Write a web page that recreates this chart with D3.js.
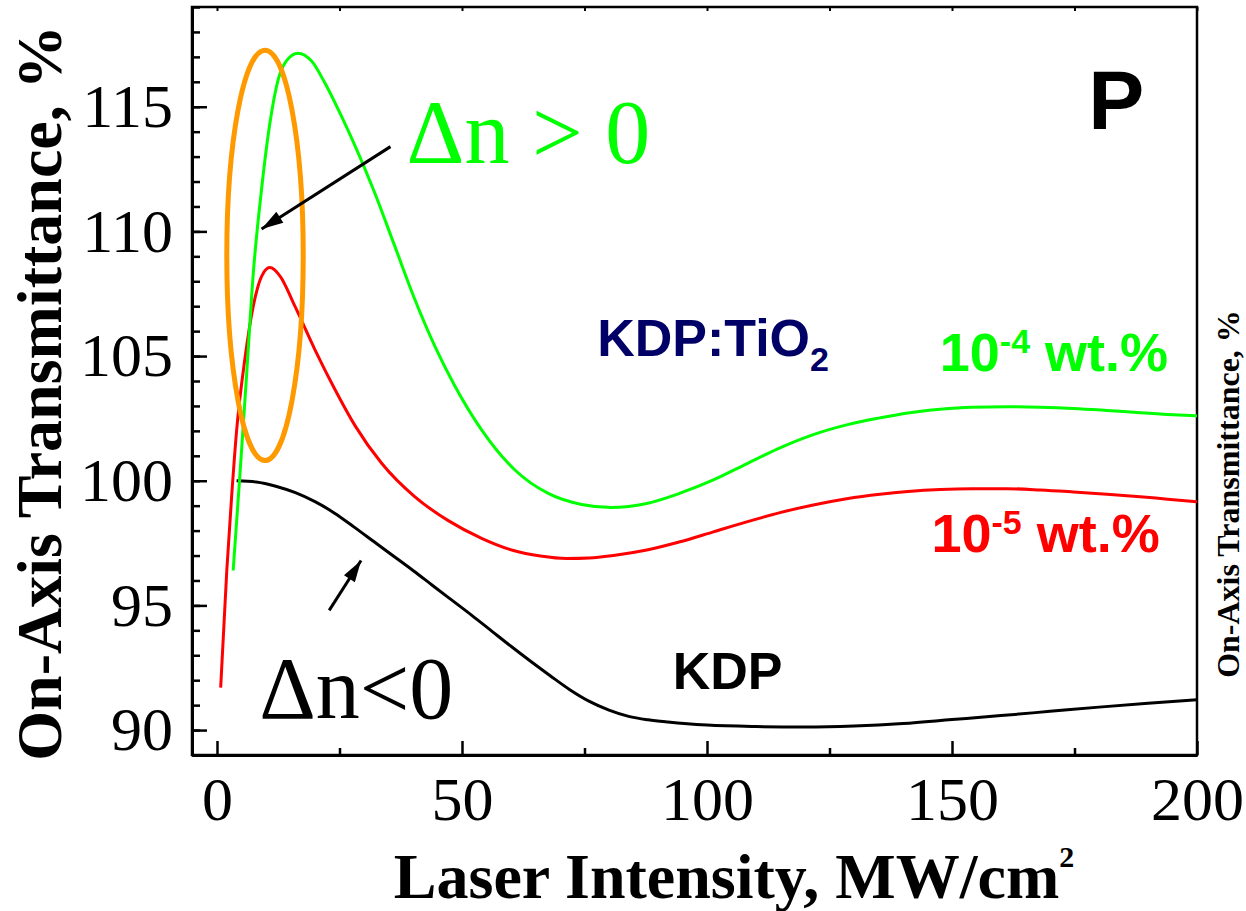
<!DOCTYPE html>
<html>
<head>
<meta charset="utf-8">
<script src="https://cdn.jsdelivr.net/npm/d3@7"></script>
<style>
  body { margin: 0; background: #fff; }
  svg { display: block; }
</style>
</head>
<body>
<div class="canvas"></div>
<script>
// ---- data ----
const kdpX = [4, 8, 12, 16, 20, 24, 28, 32, 36, 40, 44, 48, 52, 56, 60, 64, 68, 72, 76, 80, 84, 88, 92, 96, 100, 110, 120, 130, 140, 150, 160, 170, 180, 190, 200];
const kdpY = [100.0, 99.95, 99.78, 99.52, 99.16, 98.7, 98.14, 97.56, 96.98, 96.4, 95.8, 95.2, 94.6, 93.98, 93.36, 92.76, 92.18, 91.62, 91.15, 90.8, 90.55, 90.41, 90.32, 90.25, 90.2, 90.14, 90.12, 90.16, 90.26, 90.42, 90.58, 90.75, 90.92, 91.08, 91.22];

const tio5X = [0.75, 2.0, 3.0, 4.0, 5.7, 7.4, 9.1, 10.8, 12.9, 15.9, 20.0, 24.1, 28.2, 33.6, 40.4, 47.2, 54.0, 60.5, 66, 71.4, 76, 80.9, 87.7, 94.5, 101.3, 108.1, 114.9, 121.7, 128.5, 135.3, 141, 147.6, 154, 161.2, 168, 174.8, 181.6, 188.4, 194, 200];
const tio5Y = [91.7, 96.4, 99.4, 102.0, 104.9, 107.0, 108.2, 108.55, 108.2, 107.0, 105.25, 103.65, 102.2, 100.7, 99.35, 98.4, 97.69, 97.2, 96.98, 96.88, 96.9, 97.0, 97.22, 97.55, 97.95, 98.35, 98.72, 99.03, 99.28, 99.46, 99.57, 99.65, 99.68, 99.68, 99.63, 99.55, 99.46, 99.36, 99.26, 99.16];

const tio4X = [3.3, 4.7, 6.06, 7.4, 9.1, 10.8, 12.5, 14.2, 16.5, 19.3, 22.0, 25.4, 28.8, 32.2, 36.3, 40.4, 44.5, 48.6, 54.0, 60.8, 67.6, 74.4, 80.5, 87.7, 94.5, 101.3, 108.1, 114.9, 121.7, 128.5, 135.3, 141, 147.6, 154, 161.2, 168, 174.8, 181.6, 188.4, 194, 200];
const tio4Y = [96.4, 100.3, 104.3, 108.3, 111.7, 114.35, 116.1, 116.85, 117.15, 116.83, 115.96, 114.62, 113.15, 111.54, 109.4, 107.26, 105.38, 103.78, 102.04, 100.43, 99.49, 99.05, 98.93, 99.09, 99.5, 100.03, 100.68, 101.32, 101.85, 102.24, 102.52, 102.72, 102.87, 102.95, 102.97, 102.95, 102.9, 102.82, 102.73, 102.66, 102.6];

const xMajor = [0, 50, 100, 150, 200];
const xMinor = [25, 75, 125, 175];
const yMajor = [90, 95, 100, 105, 110, 115];
const yMinor = d3.range(89, 120);

const series = [
  { name: 'KDP', xs: kdpX, ys: kdpY, color: '#000000' },
  { name: '1e-5', xs: tio5X, ys: tio5Y, color: '#ff0000' },
  { name: '1e-4', xs: tio4X, ys: tio4Y, color: '#00ff00' }
];

// ---- layout ----
const width = 1246, height = 911;
const plot = { left: 192, top: 7, right: 1197, bottom: 755 };
const serif = '"Liberation Serif", "Times New Roman", serif';
const sans = '"Liberation Sans", Arial, sans-serif';

const svg = d3.select('.canvas')
  .append('svg')
  .attr('width', width)
  .attr('height', height);

const x = d3.scaleLinear().domain([-5.1, 200]).range([plot.left, plot.right]);
const y = d3.scaleLinear().domain([89, 119]).range([plot.bottom, plot.top]);

// frame (top + right)
svg.append('rect')
  .attr('x', plot.left).attr('y', plot.top)
  .attr('width', plot.right - plot.left).attr('height', plot.bottom - plot.top)
  .attr('fill', 'none').attr('stroke', '#000').attr('stroke-width', 2.5);

// axes
const styleAxis = (g, fs) => {
  g.select('.domain').attr('stroke-width', 3);
  g.selectAll('.tick line').attr('stroke-width', 2.5);
  g.selectAll('text').attr('font-family', serif).attr('font-size', fs).attr('fill', '#000');
};

const yMinorG = svg.append('g').attr('transform', `translate(${plot.left},0)`)
  .call(d3.axisLeft(y).tickValues(yMinor).tickSize(-8).tickFormat(''));
yMinorG.select('.domain').remove();
yMinorG.selectAll('.tick line').attr('stroke-width', 2.5);

const yAxisG = svg.append('g').attr('transform', `translate(${plot.left},0)`)
  .call(d3.axisLeft(y).tickValues(yMajor).tickSize(-15).tickSizeOuter(0).tickPadding(19));
styleAxis(yAxisG, 62);

const xMinorG = svg.append('g').attr('transform', `translate(0,${plot.bottom})`)
  .call(d3.axisBottom(x).tickValues(xMinor).tickSize(-7).tickFormat(''));
xMinorG.select('.domain').remove();
xMinorG.selectAll('.tick line').attr('stroke-width', 2.5);

const xAxisG = svg.append('g').attr('transform', `translate(0,${plot.bottom})`)
  .call(d3.axisBottom(x).tickValues(xMajor).tickSize(-14).tickSizeOuter(0).tickPadding(21));
styleAxis(xAxisG, 62);

// small mirrored ticks on top
const xTopG = svg.append('g').attr('transform', `translate(0,${plot.top})`)
  .call(d3.axisTop(x).tickValues(xMajor.concat(xMinor)).tickSize(-4).tickFormat(''));
xTopG.select('.domain').remove();
xTopG.selectAll('.tick line').attr('stroke-width', 2);

// axis titles
svg.append('text')
  .attr('transform', `translate(61,${(plot.top + plot.bottom) / 2 + 12}) rotate(-90)`)
  .attr('text-anchor', 'middle')
  .attr('font-family', serif).attr('font-weight', 'bold').attr('font-size', 64)
  .text('On-Axis Transmittance, %');

const xTitle = svg.append('text')
  .attr('x', 734).attr('y', 898)
  .attr('text-anchor', 'middle')
  .attr('font-family', serif).attr('font-weight', 'bold').attr('font-size', 64);
xTitle.append('tspan').text('Laser Intensity, MW/cm');
xTitle.append('tspan').attr('dy', -31).attr('font-size', 30).text('2');

// title of the neighbouring panel, at the right edge
svg.append('text')
  .attr('transform', `translate(1239,494) rotate(-90)`)
  .attr('text-anchor', 'middle')
  .attr('font-family', serif).attr('font-weight', 'bold').attr('font-size', 32)
  .text('On-Axis Transmittance, %');

// curves
const line = d3.line()
  .x(d => x(d[0]))
  .y(d => y(d[1]))
  .curve(d3.curveMonotoneX);

svg.append('g').selectAll('path')
  .data(series)
  .enter().append('path')
  .attr('d', s => line(s.xs.map((v, i) => [v, s.ys[i]])))
  .attr('fill', 'none')
  .attr('stroke', s => s.color)
  .attr('stroke-width', 3)
  .attr('stroke-linejoin', 'round');

// orange ellipse marking the dn>0 rise
const ell = { cx: 9.8, cy: 109.04, rx: 7.8, ry: 8.23 };
svg.append('ellipse')
  .attr('cx', x(ell.cx)).attr('cy', y(ell.cy))
  .attr('rx', x(ell.cx + ell.rx) - x(ell.cx))
  .attr('ry', y(ell.cy - ell.ry) - y(ell.cy))
  .attr('fill', 'none').attr('stroke', '#ff9900').attr('stroke-width', 5);

// arrows
svg.append('defs').append('marker')
  .attr('id', 'head')
  .attr('viewBox', '0 0 10 6')
  .attr('refX', 10).attr('refY', 3)
  .attr('markerUnits', 'userSpaceOnUse')
  .attr('markerWidth', 24).attr('markerHeight', 13)
  .attr('orient', 'auto')
  .append('path').attr('d', 'M0,0 L10,3 L0,6 Z').attr('fill', '#000');

const arrows = [
  { from: [35.4, 113.4], to: [9.1, 110.1] },
  { from: [22.9, 94.8], to: [29.4, 96.8] }
];
svg.append('g').selectAll('line')
  .data(arrows)
  .enter().append('line')
  .attr('x1', d => x(d.from[0])).attr('y1', d => y(d.from[1]))
  .attr('x2', d => x(d.to[0])).attr('y2', d => y(d.to[1]))
  .attr('stroke', '#000').attr('stroke-width', 3)
  .attr('marker-end', 'url(#head)');

// annotation text
svg.append('text')
  .attr('x', x(38.7)).attr('y', y(112.76))
  .attr('font-family', serif).attr('font-size', 90).attr('fill', '#00ff00')
  .attr('xml:space', 'preserve')
  .text('Δn > 0');

svg.append('text')
  .attr('x', x(8.6)).attr('y', y(90.5))
  .attr('font-family', serif).attr('font-size', 88).attr('fill', '#000')
  .text('Δn<0');

svg.append('text')
  .attr('x', x(177.8)).attr('y', y(114.1))
  .attr('font-family', sans).attr('font-weight', 'bold').attr('font-size', 84)
  .text('P');

const tio = svg.append('text')
  .attr('x', x(77.6)).attr('y', y(105.0))
  .attr('font-family', sans).attr('font-weight', 'bold').attr('font-size', 52).attr('fill', '#000066');
tio.append('tspan').text('KDP:TiO');
tio.append('tspan').attr('dy', 15).attr('font-size', 34).text('2');

const lab4 = svg.append('text')
  .attr('x', x(194.1)).attr('y', y(104.4))
  .attr('text-anchor', 'end')
  .attr('font-family', sans).attr('font-weight', 'bold').attr('font-size', 54).attr('fill', '#00ff00');
lab4.append('tspan').text('10');
lab4.append('tspan').attr('dy', -18).attr('font-size', 34).text('-4');
lab4.append('tspan').attr('dy', 18).text(' wt.%');

const lab5 = svg.append('text')
  .attr('x', x(192.4)).attr('y', y(97.15))
  .attr('text-anchor', 'end')
  .attr('font-family', sans).attr('font-weight', 'bold').attr('font-size', 54).attr('fill', '#ff0000');
lab5.append('tspan').text('10');
lab5.append('tspan').attr('dy', -18).attr('font-size', 34).text('-5');
lab5.append('tspan').attr('dy', 18).text(' wt.%');

svg.append('text')
  .attr('x', x(93.0)).attr('y', y(91.66))
  .attr('font-family', sans).attr('font-weight', 'bold').attr('font-size', 52)
  .text('KDP');
</script>
</body>
</html>
